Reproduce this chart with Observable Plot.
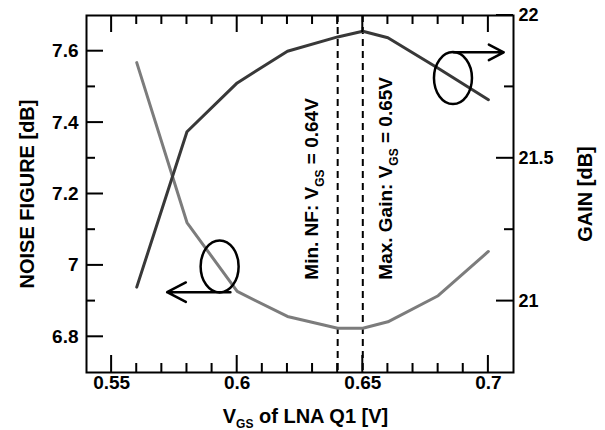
<!DOCTYPE html>
<html><head><meta charset="utf-8">
<script src="https://cdn.jsdelivr.net/npm/d3@7"></script>
<script src="https://cdn.jsdelivr.net/npm/@observablehq/plot@0.6"></script>
<style>
html,body{margin:0;padding:0;background:#fff;}
#chart{width:605px;height:430px;}
</style></head><body><div id="chart"></div>
<script>
// ---- data ----
const vgs = [0.56, 0.58, 0.60, 0.62, 0.64, 0.65, 0.66, 0.68, 0.70];
const noiseFigure = [7.568, 7.12, 6.927, 6.857, 6.824, 6.824, 6.842, 6.915, 7.039];
const gain = [21.049, 21.593, 21.764, 21.875, 21.925, 21.945, 21.922, 21.815, 21.705];

const markerVgs = [0.64, 0.65];
const markerLabels = ["Min. NF: V_GS = 0.64V", "Max. Gain: V_GS = 0.65V"];
const markerStartNF = 6.96;

const xTicks = [0.55, 0.6, 0.65, 0.7];
const xMinorTicks = [0.56, 0.57, 0.58, 0.59, 0.61, 0.62, 0.63, 0.64, 0.66, 0.67, 0.68, 0.69];
const nfTicks = [6.8, 7, 7.2, 7.4, 7.6];
const nfMinorTicks = [6.9, 7.1, 7.3, 7.5];
const gainTicks = [21, 21.5, 22];
const gainMinorTicks = [21.25, 21.75];

const xTitle = "V_GS of LNA Q1 [V]";
const nfTitle = "NOISE FIGURE [dB]";
const gainTitle = "GAIN [dB]";

// annotation ellipses and arrows, in data coordinates
const nfEllipse = {vgs: 0.593, nf: 6.997};
const gainEllipse = {vgs: 0.6859, gain: 21.781};
const nfArrow = {from: 0.5973, to: 0.5721, nf: 6.925};
const gainArrow = {from: 0.6861, to: 0.7061, gain: 21.871};

// ---- scales ----
const xDomain = [0.54, 0.71];
const nfDomain = [6.7, 7.7];
const gainDomain = [20.75, 22];
const k = (nfDomain[1] - nfDomain[0]) / (gainDomain[1] - gainDomain[0]);
const toNF = g => nfDomain[0] + (g - gainDomain[0]) * k;
const fromNF = v => gainDomain[0] + (v - nfDomain[0]) / k;

const nfRows = vgs.map((v, i) => ({vgs: v, nf: noiseFigure[i]}));
const gainRows = vgs.map((v, i) => ({vgs: v, gain: gain[i]}));
const markerRows = markerVgs.map((v, i) => ({vgs: v, label: markerLabels[i], nf: markerStartNF}));

const ellipseSymbol = {
  draw(ctx) {
    const rx = 19, ry = 26, c = 0.5523;
    ctx.moveTo(rx, 0);
    ctx.bezierCurveTo(rx, ry * c, rx * c, ry, 0, ry);
    ctx.bezierCurveTo(-rx * c, ry, -rx, ry * c, -rx, 0);
    ctx.bezierCurveTo(-rx, -ry * c, -rx * c, -ry, 0, -ry);
    ctx.bezierCurveTo(rx * c, -ry, rx, -ry * c, rx, 0);
    ctx.closePath();
  }
};

// layout
const W = 605, H = 430, ML = 86, MR = 92, MT = 15, MB = 58;
const FW = W - ML - MR, FH = H - MT - MB;
const MAJ = 17, MIN = 9, TW = 2;
const xPerPx = (xDomain[1] - xDomain[0]) / FW;
const yPerPx = (nfDomain[1] - nfDomain[0]) / FH;

// inward ticks as thin filled rectangles, built from the tick arrays
const tickRects = [];
[[xTicks, MAJ], [xMinorTicks, MIN]].forEach(([list, len]) => list.forEach(v => {
  const a = v - TW / 2 * xPerPx, b = v + TW / 2 * xPerPx;
  tickRects.push({x1: a, x2: b, y1: nfDomain[0], y2: nfDomain[0] + len * yPerPx});
  tickRects.push({x1: a, x2: b, y1: nfDomain[1] - len * yPerPx, y2: nfDomain[1]});
}));
[[nfTicks, MAJ], [nfMinorTicks, MIN]].forEach(([list, len]) => list.forEach(v => {
  tickRects.push({x1: xDomain[0], x2: xDomain[0] + len * xPerPx, y1: v - TW / 2 * yPerPx, y2: v + TW / 2 * yPerPx});
}));
[[gainTicks, MAJ], [gainMinorTicks, MIN]].forEach(([list, len]) => list.forEach(g => {
  const v = toNF(g);
  tickRects.push({x1: xDomain[1] - len * xPerPx, x2: xDomain[1], y1: v - TW / 2 * yPerPx, y2: v + TW / 2 * yPerPx});
}));

const fmtGain = v => String(+fromNF(v).toFixed(2));
const fmtPlain = v => String(+v.toFixed(3));
const font = {fontWeight: "bold", fill: "black"};

const plot = Plot.plot({
  width: W, height: H,
  marginLeft: ML, marginRight: MR, marginTop: MT, marginBottom: MB,
  x: {domain: xDomain, label: null},
  y: {domain: nfDomain, label: null},
  style: {fontFamily: '"Liberation Sans", Arial, sans-serif', fontWeight: "bold", fontSize: "19px", color: "black", background: "white", overflow: "visible"},
  marks: [
    Plot.ruleX(markerVgs, {stroke: "black", strokeWidth: 2, strokeDasharray: "7,5"}),
    Plot.line(nfRows, {x: "vgs", y: "nf", stroke: "#7c7c7c", strokeWidth: 3}),
    Plot.line(gainRows, {x: "vgs", y: d => toNF(d.gain), stroke: "#383838", strokeWidth: 3}),
    Plot.dot([nfEllipse, gainEllipse], {x: "vgs", y: d => d.nf ?? toNF(d.gain), symbol: ellipseSymbol, fill: "none", stroke: "black", strokeWidth: 2.5}),
    Plot.arrow([nfArrow, gainArrow], {x1: "from", x2: "to", y1: d => d.nf ?? toNF(d.gain), y2: d => d.nf ?? toNF(d.gain), stroke: "black", strokeWidth: 2.5, headAngle: 55, headLength: 18}),
    Plot.text(markerRows.slice(0, 1), {x: "vgs", y: "nf", text: "label", rotate: -90, textAnchor: "start", lineAnchor: "middle", dx: -25.3, fontSize: 19, ...font}),
    Plot.text(markerRows.slice(1), {x: "vgs", y: "nf", text: "label", rotate: -90, textAnchor: "start", lineAnchor: "middle", dx: 23.2, fontSize: 19, ...font}),
    // inward ticks (filled thin rectangles)
    Plot.rect(tickRects, {x1: "x1", x2: "x2", y1: "y1", y2: "y2", fill: "black"}),
    // tick labels
    Plot.axisX(xTicks, {anchor: "bottom", tickSize: 0, tickPadding: 3, fontSize: 19, ...font, tickFormat: fmtPlain, label: null}),
    Plot.axisY(nfTicks, {anchor: "left", tickSize: 0, tickPadding: 8, fontSize: 19, ...font, tickFormat: fmtPlain, label: null}),
    Plot.axisY(gainTicks.map(toNF), {anchor: "right", tickSize: 0, tickPadding: 5, fontSize: 18, ...font, tickFormat: fmtGain, label: null}),
    // axis titles
    Plot.text([nfTitle], {frameAnchor: "left", text: d => d, rotate: -90, textAnchor: "middle", lineAnchor: "middle", dx: -59.4, fontSize: 20, ...font}),
    Plot.text([gainTitle], {frameAnchor: "right", text: d => d, rotate: -90, textAnchor: "middle", lineAnchor: "middle", dx: 72.3, fontSize: 20, ...font}),
    Plot.text([xTitle], {frameAnchor: "bottom", text: d => d, textAnchor: "middle", lineAnchor: "middle", dx: 5.5, dy: 43.6, fontSize: 20, ...font}),
    Plot.frame({stroke: "black", strokeWidth: 2})
  ]
});

document.getElementById("chart").append(plot);

// subscripts for V_GS
const ns = "http://www.w3.org/2000/svg";
plot.querySelectorAll("text").forEach(t => {
  const s = t.textContent;
  const i = s.indexOf("V_GS");
  if (i < 0) return;
  const fs = parseFloat(getComputedStyle(t).fontSize) || 20;
  const sub = Math.round(fs * 0.62), shift = fs * 0.3;
  while (t.firstChild) t.removeChild(t.firstChild);
  t.append(s.slice(0, i + 1));
  const a = document.createElementNS(ns, "tspan");
  a.setAttribute("font-size", sub);
  a.setAttribute("dy", shift);
  a.textContent = "GS";
  const b = document.createElementNS(ns, "tspan");
  b.setAttribute("dy", -shift);
  b.textContent = s.slice(i + 4);
  t.append(a, b);
});
</script>
</body></html>
